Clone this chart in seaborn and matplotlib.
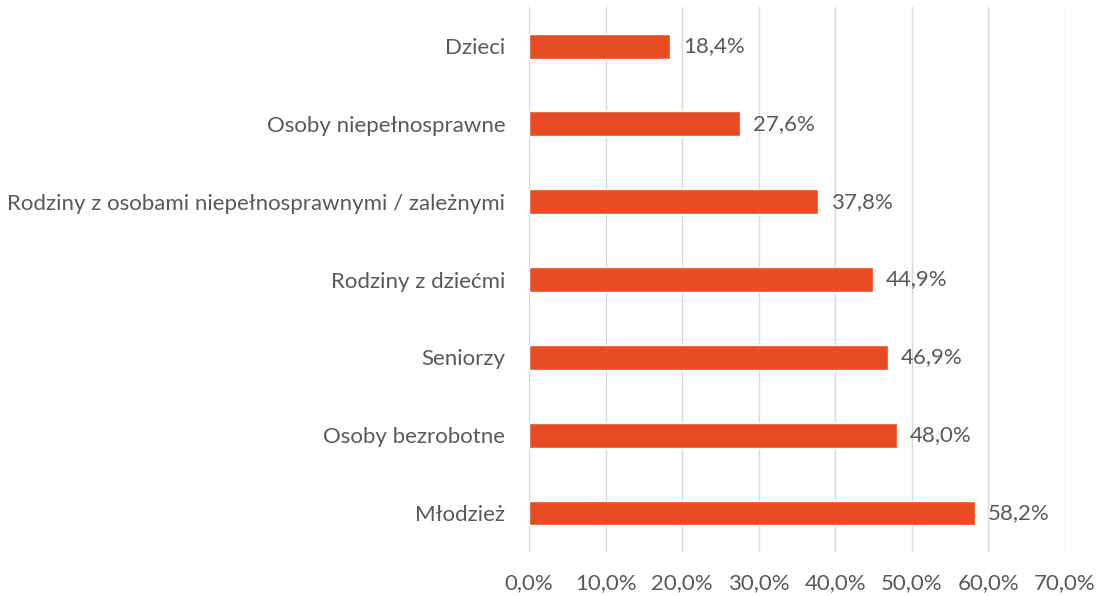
import matplotlib
matplotlib.use("Agg")
import matplotlib.pyplot as plt
import seaborn as sns
import pandas as pd

categories = ["Dzieci", "Osoby niepełnosprawne",
              "Rodziny z osobami niepełnosprawnymi / zależnymi",
              "Rodziny z dziećmi", "Seniorzy", "Osoby bezrobotne", "Młodzież"]
values = [18.4, 27.6, 37.8, 44.9, 46.9, 48.0, 58.2]
xticks = [0, 10, 20, 30, 40, 50, 60, 70]

df = pd.DataFrame({"cat": categories, "val": values})

sns.set_theme(style="white")
plt.rcParams['font.family'] = ['Lato', 'DejaVu Sans']
text_color = "#595959"
fs = 16

fig = plt.figure(figsize=(10.98, 5.96), dpi=100)
ax = fig.add_axes([0.4818, 0.074, 0.4882, 0.914])
sns.barplot(data=df, x="val", y="cat", color="#E84C22", width=0.32,
            saturation=1, ax=ax, orient="h")
ax.set_xlim(0, 70)
ax.set_xticks(xticks)
ax.set_xticklabels([f"{t:.1f}%".replace(".", ",") for t in xticks],
                   fontsize=fs, color=text_color)
ax.tick_params(axis="y", labelsize=fs, colors=text_color, length=0, pad=17)
ax.tick_params(axis="x", length=0, pad=15)
ax.set_xlabel("")
ax.set_ylabel("")
ax.grid(axis="x", color="#D9D9D9", linewidth=1)
ax.set_axisbelow(True)
for s in ax.spines.values():
    s.set_visible(False)
for i, v in enumerate(values):
    ax.text(v + 1.7, i, f"{v:.1f}%".replace(".", ","), va="center", ha="left",
            fontsize=fs, color=text_color)
fig.savefig("out.png", dpi=100)
